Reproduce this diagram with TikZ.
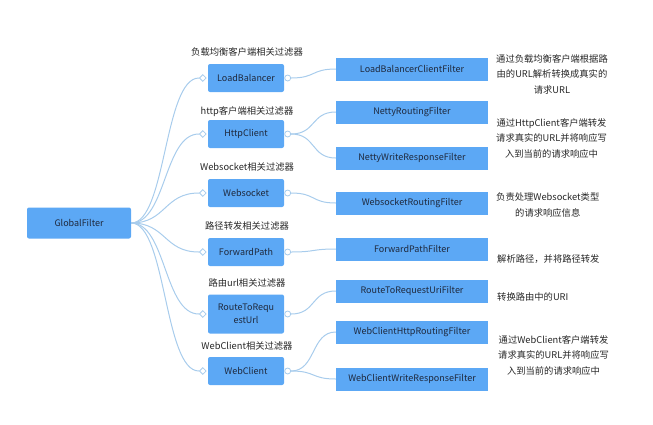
\documentclass[tikz,border=0pt]{standalone}
\usepackage{fontspec}
\setmainfont{Noto Sans CJK SC}
\usetikzlibrary{shapes.geometric}
\definecolor{boxblue}{RGB}{92,168,245}
\definecolor{linkblue}{RGB}{168,204,236}
\definecolor{txtdark}{RGB}{30,40,60}
\begin{document}
\begin{tikzpicture}[x=1pt,y=-1pt,
  box/.style={draw=none,fill=boxblue,rounded corners=2pt,text=txtdark,font=\fontsize{9}{13}\selectfont,align=center,inner sep=0pt},
  rootbox/.style={box,minimum width=104pt,minimum height=31pt},
  midbox/.style={box,minimum width=76pt,minimum height=28pt},
  leafbox/.style={box,rounded corners=0pt,minimum width=152pt,minimum height=23pt},
  grouplabel/.style={font=\fontsize{9.3}{12}\selectfont,text=black!85,inner sep=0pt},
  desc/.style={font=\fontsize{9.3}{15.5}\selectfont,text=black!85,align=center,inner sep=0pt,anchor=west},
  dia/.style={diamond,draw=linkblue,fill=white,line width=0.8pt,inner sep=0pt,minimum size=7pt},
  circ/.style={circle,draw=linkblue,fill=white,line width=0.8pt,inner sep=0pt,minimum size=6pt},
  link/.style={draw=linkblue,line width=1pt}
]
\useasboundingbox (0,0) rectangle (653,424);

% root
\node[rootbox] (root) at (79,223) {GlobalFilter};

% level 2
\node[midbox] (lb) at (246,78) {LoadBalancer};
\node[midbox] (hc) at (246,134) {HttpClient};
\node[midbox] (ws) at (246,193) {Websocket};
\node[midbox] (fp) at (246,252) {ForwardPath};
\node[midbox,minimum height=39pt] (rr) at (246,314) {RouteToRequ\\estUrl};
\node[midbox] (wc) at (246,371) {WebClient};

% group labels
\node[grouplabel] (llb) at (247,52) {负载均衡客户端相关过滤器};
\node[grouplabel] (lhc) at (247,112) {http客户端相关过滤器};
\node[grouplabel] (lws) at (247,167) {Websocket相关过滤器};
\node[grouplabel] (lfp) at (247,226) {路径转发相关过滤器};
\node[grouplabel] (lrr) at (247,283) {路由url相关过滤器};
\node[grouplabel] (lwc) at (247,346) {WebClient相关过滤器};

% diamonds before level-2 boxes
\foreach \n in {lb,hc,ws,fp,rr,wc}{
  \node[dia] (d\n) at ([xshift=-5pt]\n.west) {};
  \node[circ] (c\n) at ([xshift=3.5pt]\n.east) {};
}

% level 3
\node[leafbox] (lbf) at (412,69) {LoadBalancerClientFilter};
\node[leafbox] (nrf) at (412,112) {NettyRoutingFilter};
\node[leafbox] (nwf) at (412,158) {NettyWriteResponseFilter};
\node[leafbox] (wrf) at (412,203) {WebsocketRoutingFilter};
\node[leafbox] (fpf) at (412,249) {ForwardPathFilter};
\node[leafbox] (ruf) at (412,291) {RouteToRequestUriFilter};
\node[leafbox] (whf) at (412,332) {WebClientHttpRoutingFilter};
\node[leafbox] (wwf) at (412,379) {WebClientWriteResponseFilter};

% descriptions
\node[desc] (t1) at (496,74) {通过负载均衡客户端根据路\\由的URL解析转换成真实的\\请求URL};
\node[desc] (t2) at (496,138) {通过HttpClient客户端转发\\请求真实的URL并将响应写\\入到当前的请求响应中};
\node[desc] (t3) at (496,205) {负责处理Websocket类型\\的请求响应信息};
\node[desc] (t4) at (497,259) {解析路径，并将路径转发};
\node[desc] (t5) at (497,297) {转换路由中的URI};
\node[desc] (t6) at (498,355) {通过WebClient客户端转发\\请求真实的URL并将响应写\\入到当前的请求响应中};

% root connectors
\begin{scope}[on background layer/.style={}]
\foreach \n in {lb,hc,ws,fp,rr,wc}{
  \draw[link] (root.east) .. controls +(35,0) and +(-35,0) .. (d\n.west);
}
% level-2 to level-3
\draw[link] (clb.east) .. controls +(25,0) and +(-25,0) .. (lbf.west);
\draw[link] (chc.east) .. controls +(25,0) and +(-25,0) .. (nrf.west);
\draw[link] (chc.east) .. controls +(25,0) and +(-25,0) .. (nwf.west);
\draw[link] (cws.east) .. controls +(25,0) and +(-25,0) .. (wrf.west);
\draw[link] (cfp.east) .. controls +(25,0) and +(-25,0) .. (fpf.west);
\draw[link] (crr.east) .. controls +(25,0) and +(-25,0) .. (ruf.west);
\draw[link] (cwc.east) .. controls +(25,0) and +(-25,0) .. (whf.west);
\draw[link] (cwc.east) .. controls +(25,0) and +(-25,0) .. (wwf.west);
\end{scope}
\end{tikzpicture}
\end{document}
